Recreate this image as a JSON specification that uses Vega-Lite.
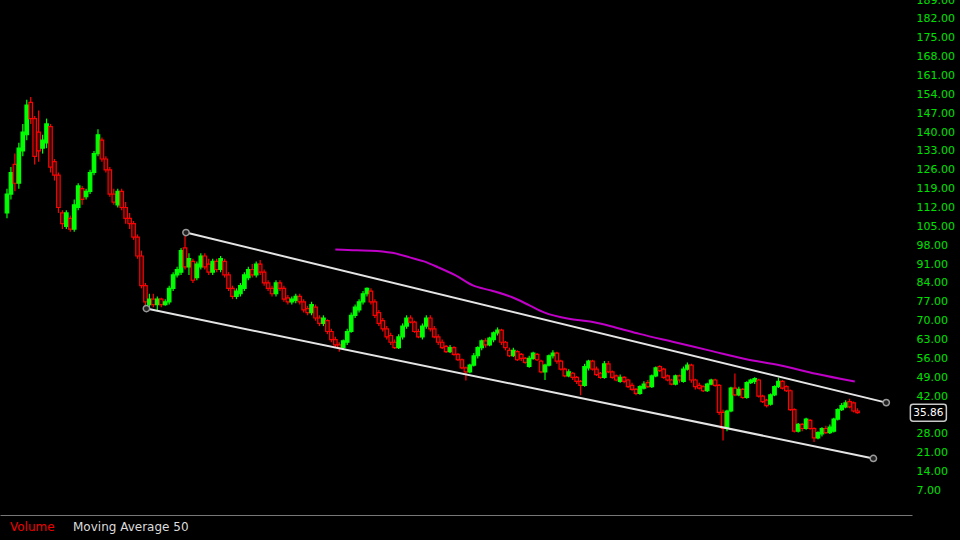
{
  "$schema": "https://vega.github.io/schema/vega-lite/v6.json",
  "width": 912,
  "height": 515,
  "autosize": {"type": "none"},
  "padding": {"left": 0, "top": 0, "right": 48, "bottom": 25},
  "background": "#000000",
  "config": {
    "view": {"stroke": null},
    "font": "DejaVu Sans",
    "axisX": {"labels": false, "ticks": false, "grid": false, "domainColor": "#777777", "domainWidth": 1},
    "axisY": {"orient": "right", "domain": false, "ticks": false, "grid": false, "labelColor": "#00e000", "labelFont": "DejaVu Sans", "labelFontSize": 11, "labelPadding": 4, "labelAlign": "left", "labelBaseline": "middle", "format": ".2f", "labelOverlap": false, "labelBound": false, "labelFlush": false}
  },
  "datasets": {
    "k": [
      {"t":0,"o":110,"h":119,"l":108,"c":117},{"t":1,"o":117,"h":127,"l":115,"c":125},{"t":2,"o":128,"h":132,"l":118,"c":121},{"t":3,"o":121,"h":136,"l":119,"c":134},{"t":4,"o":133,"h":143,"l":131,"c":140},{"t":5,"o":139,"h":152,"l":137,"c":150},{"t":6,"o":151,"h":153,"l":143,"c":145},{"t":7,"o":145,"h":146,"l":128,"c":131},{"t":8,"o":140,"h":148,"l":129,"c":133},{"t":9,"o":134,"h":139,"l":132,"c":137},
      {"t":10,"o":136,"h":145,"l":134,"c":143},{"t":11,"o":142,"h":143,"l":125,"c":127},{"t":12,"o":129,"h":130,"l":122,"c":124},{"t":13,"o":124,"h":125,"l":110,"c":112},{"t":14,"o":110,"h":111,"l":104,"c":106},{"t":15,"o":105,"h":111,"l":104,"c":110},{"t":16,"o":108,"h":109,"l":103,"c":104},{"t":17,"o":104,"h":115,"l":103,"c":113},{"t":18,"o":112,"h":121,"l":111,"c":120},{"t":19,"o":119,"h":120,"l":113,"c":115},
      {"t":20,"o":116,"h":119,"l":115,"c":118},{"t":21,"o":118,"h":126,"l":117,"c":125},{"t":22,"o":125,"h":133,"l":124,"c":132},{"t":23,"o":132,"h":141,"l":131,"c":139},{"t":24,"o":137,"h":138,"l":129,"c":130},{"t":25,"o":130,"h":131,"l":125,"c":126},{"t":26,"o":126,"h":127,"l":116,"c":117},{"t":27,"o":117,"h":119,"l":113,"c":114},{"t":28,"o":113,"h":119,"l":112,"c":118},{"t":29,"o":118,"h":119,"l":111,"c":112},
      {"t":30,"o":112,"h":114,"l":106,"c":108},{"t":31,"o":108,"h":110,"l":104,"c":106},{"t":32,"o":106,"h":107,"l":100,"c":101},{"t":33,"o":101,"h":102,"l":93,"c":94},{"t":34,"o":94,"h":96,"l":82,"c":83},{"t":35,"o":83,"h":84,"l":74.5,"c":77},{"t":36,"o":76,"h":80,"l":74,"c":78},{"t":37,"o":78,"h":80,"l":75,"c":76},{"t":38,"o":76,"h":79,"l":73.5,"c":78},{"t":39,"o":78,"h":78.5,"l":75,"c":76},
      {"t":40,"o":76,"h":78,"l":75.5,"c":77},{"t":41,"o":77,"h":83,"l":76,"c":82},{"t":42,"o":82,"h":88,"l":81,"c":87},{"t":43,"o":87,"h":90,"l":86,"c":89},{"t":44,"o":88,"h":97,"l":87,"c":96},{"t":45,"o":97,"h":102.7,"l":89,"c":90},{"t":46,"o":90,"h":95,"l":87,"c":93},{"t":47,"o":92,"h":93,"l":84,"c":85},{"t":48,"o":86,"h":92,"l":85,"c":91},{"t":49,"o":90,"h":95,"l":89,"c":94},
      {"t":50,"o":94,"h":95,"l":89,"c":90},{"t":51,"o":91,"h":93,"l":87,"c":88},{"t":52,"o":88,"h":93,"l":87,"c":92},{"t":53,"o":92,"h":93,"l":88,"c":89},{"t":54,"o":89,"h":94,"l":88,"c":93},{"t":55,"o":92,"h":93,"l":86,"c":87},{"t":56,"o":87,"h":88,"l":81,"c":82},{"t":57,"o":82,"h":83,"l":78,"c":79},{"t":58,"o":79,"h":82,"l":78,"c":81},{"t":59,"o":80,"h":84,"l":79,"c":83},
      {"t":60,"o":82,"h":88,"l":81,"c":87},{"t":61,"o":86,"h":90,"l":85,"c":89},{"t":62,"o":89,"h":91,"l":86,"c":87},{"t":63,"o":87,"h":92,"l":86,"c":91},{"t":64,"o":91,"h":92.5,"l":87,"c":88},{"t":65,"o":88,"h":89,"l":83,"c":84},{"t":66,"o":84,"h":85,"l":81,"c":82},{"t":67,"o":82,"h":83,"l":79,"c":80},{"t":68,"o":80,"h":85,"l":79,"c":84},{"t":69,"o":84,"h":85,"l":81,"c":82},
      {"t":70,"o":82,"h":83,"l":77,"c":78},{"t":71,"o":78.5,"h":79.5,"l":76,"c":77},{"t":72,"o":77,"h":79,"l":76,"c":78},{"t":73,"o":77.5,"h":80,"l":76.5,"c":79},{"t":74,"o":79,"h":80,"l":76,"c":77},{"t":75,"o":77,"h":78,"l":73,"c":74},{"t":76,"o":74.5,"h":75.5,"l":72,"c":73},{"t":77,"o":73,"h":77,"l":72,"c":76},{"t":78,"o":75,"h":76,"l":70,"c":71},{"t":79,"o":71,"h":72,"l":68,"c":69},
      {"t":80,"o":69,"h":72,"l":68,"c":71},{"t":81,"o":70,"h":70.5,"l":65,"c":66},{"t":82,"o":66,"h":67,"l":62,"c":63},{"t":83,"o":63,"h":64,"l":60,"c":61},{"t":84,"o":61,"h":62,"l":58.5,"c":60},{"t":85,"o":60,"h":63,"l":59.5,"c":62.5},{"t":86,"o":62,"h":67,"l":61,"c":66},{"t":87,"o":66,"h":73,"l":65.5,"c":72},{"t":88,"o":72,"h":76,"l":71,"c":75},{"t":89,"o":74,"h":78,"l":73,"c":77},
      {"t":90,"o":77,"h":81,"l":76,"c":80},{"t":91,"o":80,"h":82.3,"l":79,"c":82},{"t":92,"o":81,"h":82,"l":76,"c":77},{"t":93,"o":77,"h":78,"l":71,"c":72},{"t":94,"o":73,"h":74,"l":68,"c":69},{"t":95,"o":70,"h":71,"l":66,"c":67},{"t":96,"o":67,"h":68,"l":63,"c":64},{"t":97,"o":64.5,"h":65.5,"l":61,"c":62},{"t":98,"o":62,"h":63,"l":59.5,"c":60},{"t":99,"o":60,"h":65,"l":59.5,"c":64},
      {"t":100,"o":64,"h":69,"l":63,"c":68},{"t":101,"o":68,"h":72,"l":67,"c":71},{"t":102,"o":71,"h":72,"l":69,"c":69.5},{"t":103,"o":69.5,"h":70,"l":65.5,"c":66},{"t":104,"o":66,"h":67,"l":63.5,"c":64},{"t":105,"o":64,"h":69,"l":63,"c":68},{"t":106,"o":68,"h":72,"l":67,"c":71},{"t":107,"o":71,"h":72,"l":66,"c":67},{"t":108,"o":67,"h":68,"l":63.5,"c":64},{"t":109,"o":64,"h":65,"l":61,"c":62},
      {"t":110,"o":62,"h":63,"l":59.5,"c":60},{"t":111,"o":60.5,"h":61,"l":58,"c":58.5},{"t":112,"o":58.5,"h":61,"l":58,"c":60},{"t":113,"o":60,"h":60.5,"l":57,"c":57.5},{"t":114,"o":57.5,"h":58,"l":55,"c":55.5},{"t":115,"o":55.5,"h":56,"l":52,"c":52.5},{"t":116,"o":52.5,"h":53,"l":47.8,"c":51},{"t":117,"o":51,"h":54,"l":50.5,"c":53.5},{"t":118,"o":53.5,"h":58,"l":53,"c":57},{"t":119,"o":57,"h":60.5,"l":56,"c":60},
      {"t":120,"o":60,"h":63,"l":59,"c":62.5},{"t":121,"o":62.5,"h":63.5,"l":60,"c":61},{"t":122,"o":61,"h":64,"l":60.5,"c":63.5},{"t":123,"o":63,"h":66,"l":62,"c":65.5},{"t":124,"o":65.5,"h":67.5,"l":64.5,"c":66.5},{"t":125,"o":66.5,"h":67,"l":61,"c":62},{"t":126,"o":62,"h":62.5,"l":59,"c":60},{"t":127,"o":59,"h":60,"l":56.5,"c":57},{"t":128,"o":57,"h":60,"l":56.5,"c":59},{"t":129,"o":58.5,"h":59,"l":55,"c":55.5},
      {"t":130,"o":57.5,"h":58,"l":55,"c":56},{"t":131,"o":56,"h":56.5,"l":54,"c":54.5},{"t":132,"o":53,"h":57,"l":52.5,"c":56},{"t":133,"o":56,"h":58.5,"l":55.5,"c":58},{"t":134,"o":57.5,"h":58,"l":55,"c":55.5},{"t":135,"o":55,"h":55.5,"l":50.5,"c":51},{"t":136,"o":51,"h":54,"l":48,"c":53.5},{"t":137,"o":53.5,"h":57.5,"l":53,"c":57},{"t":138,"o":57,"h":59,"l":56,"c":58},{"t":139,"o":58,"h":58.5,"l":54,"c":55},
      {"t":140,"o":55,"h":55.5,"l":51.5,"c":52},{"t":141,"o":52,"h":52.5,"l":49,"c":49.5},{"t":142,"o":49.5,"h":52,"l":49,"c":51},{"t":143,"o":50.5,"h":51,"l":48,"c":49},{"t":144,"o":49,"h":49.5,"l":46.5,"c":47.5},{"t":145,"o":47.5,"h":48,"l":42.3,"c":46},{"t":146,"o":46,"h":54,"l":45.5,"c":53},{"t":147,"o":52.5,"h":55.5,"l":51.5,"c":55},{"t":148,"o":55,"h":55.5,"l":51.5,"c":52},{"t":149,"o":52,"h":53,"l":49.5,"c":50},
      {"t":150,"o":50.5,"h":51,"l":48.5,"c":49},{"t":151,"o":49,"h":55,"l":48.5,"c":54},{"t":152,"o":54,"h":55,"l":50.5,"c":51},{"t":153,"o":51,"h":51.5,"l":48.5,"c":49},{"t":154,"o":49.5,"h":50,"l":47.5,"c":48},{"t":155,"o":47.5,"h":50,"l":47,"c":49},{"t":156,"o":49,"h":49.5,"l":46.8,"c":47.5},{"t":157,"o":48,"h":48.5,"l":45,"c":45.5},{"t":158,"o":46,"h":47,"l":44,"c":44.5},{"t":159,"o":44.5,"h":45,"l":42.3,"c":43},
      {"t":160,"o":43,"h":46,"l":42.5,"c":45.5},{"t":161,"o":45,"h":47.5,"l":44.5,"c":46.5},{"t":162,"o":47,"h":48,"l":45,"c":45.5},{"t":163,"o":45.5,"h":50,"l":45,"c":49.5},{"t":164,"o":49.5,"h":53,"l":49,"c":52.5},{"t":165,"o":53,"h":53.5,"l":51,"c":51.5},{"t":166,"o":52,"h":52.5,"l":48.5,"c":49},{"t":167,"o":49.5,"h":50,"l":47.5,"c":48},{"t":168,"o":48,"h":48.5,"l":46,"c":46.5},{"t":169,"o":46.5,"h":50,"l":46,"c":49.5},
      {"t":170,"o":49.5,"h":50,"l":47,"c":48},{"t":171,"o":47.5,"h":53,"l":47,"c":52},{"t":172,"o":52,"h":54.5,"l":51.5,"c":53.5},{"t":173,"o":53.5,"h":54,"l":47,"c":48},{"t":174,"o":48,"h":48.5,"l":44.5,"c":45.5},{"t":175,"o":46,"h":47,"l":44.5,"c":45},{"t":176,"o":45.5,"h":46,"l":43.5,"c":44},{"t":177,"o":44,"h":47,"l":43.5,"c":46.5},{"t":178,"o":46.5,"h":48.5,"l":46,"c":48},{"t":179,"o":48,"h":48.5,"l":45.5,"c":46},
      {"t":180,"o":46,"h":46.5,"l":35,"c":36},{"t":181,"o":36,"h":37,"l":25.5,"c":30},{"t":182,"o":30,"h":37,"l":29,"c":36.5},{"t":183,"o":36.5,"h":45.5,"l":36,"c":45},{"t":184,"o":45,"h":50.4,"l":42,"c":42.5},{"t":185,"o":42.5,"h":45.5,"l":42,"c":44.5},{"t":186,"o":44.5,"h":45,"l":41,"c":41.5},{"t":187,"o":41.5,"h":47.5,"l":41,"c":47},{"t":188,"o":47,"h":48.5,"l":46.5,"c":48},{"t":189,"o":47.5,"h":49,"l":46.5,"c":48.5},
      {"t":190,"o":48,"h":48.5,"l":41.5,"c":42},{"t":191,"o":42,"h":42.5,"l":39.5,"c":40},{"t":192,"o":40.5,"h":41,"l":37.8,"c":38.5},{"t":193,"o":39,"h":43,"l":38.5,"c":42.5},{"t":194,"o":42.5,"h":46,"l":42,"c":45.5},{"t":195,"o":45.5,"h":48.9,"l":45,"c":47.5},{"t":196,"o":47.5,"h":48,"l":44.5,"c":45},{"t":197,"o":45.5,"h":46,"l":43.5,"c":44},{"t":198,"o":44,"h":44.5,"l":36.5,"c":37},{"t":199,"o":37,"h":37.5,"l":28.5,"c":29},
      {"t":200,"o":29,"h":32,"l":28.5,"c":31.5},{"t":201,"o":31.5,"h":32,"l":29,"c":30},{"t":202,"o":30,"h":34,"l":29.5,"c":33.5},{"t":203,"o":33,"h":33.5,"l":29.5,"c":30},{"t":204,"o":30,"h":30.5,"l":25,"c":26.5},{"t":205,"o":26.5,"h":29,"l":26,"c":28.5},{"t":206,"o":28,"h":30.5,"l":27,"c":30},{"t":207,"o":30,"h":31,"l":28,"c":28.5},{"t":208,"o":28.5,"h":31.5,"l":28,"c":30.5},{"t":209,"o":29,"h":34,"l":28.5,"c":33.5},
      {"t":210,"o":33.5,"h":37.5,"l":33,"c":37},{"t":211,"o":37,"h":39.5,"l":36.5,"c":38.5},{"t":212,"o":38,"h":40.5,"l":37.5,"c":39.5},{"t":213,"o":40,"h":41,"l":37.5,"c":38},{"t":214,"o":39.5,"h":40,"l":36,"c":36.5},{"t":215,"o":36.5,"h":37.5,"l":35.5,"c":35.86}
    ],
    "ma": [
      {"t":83,"v":96.4,"s":"Moving Average 50"},{"t":88.4,"v":96.1,"s":"Moving Average 50"},{"t":92,"v":96.0,"s":"Moving Average 50"},{"t":97.4,"v":95.2,"s":"Moving Average 50"},{"t":101.8,"v":93.5,"s":"Moving Average 50"},{"t":105.4,"v":92.0,"s":"Moving Average 50"},{"t":109,"v":89.8,"s":"Moving Average 50"},{"t":113.4,"v":86.8,"s":"Moving Average 50"},{"t":117.9,"v":83.0,"s":"Moving Average 50"},{"t":122.4,"v":81.2,"s":"Moving Average 50"},{"t":127.7,"v":78.7,"s":"Moving Average 50"},{"t":132.2,"v":75.6,"s":"Moving Average 50"},{"t":135.75,"v":73.1,"s":"Moving Average 50"},{"t":142,"v":70.7,"s":"Moving Average 50"},{"t":147.4,"v":69.7,"s":"Moving Average 50"},{"t":153.6,"v":67.6,"s":"Moving Average 50"},{"t":159.9,"v":65.1,"s":"Moving Average 50"},{"t":168.8,"v":62.0,"s":"Moving Average 50"},{"t":177.7,"v":58.9,"s":"Moving Average 50"},{"t":186.6,"v":55.8,"s":"Moving Average 50"},{"t":195.6,"v":53.4,"s":"Moving Average 50"},{"t":204.5,"v":50.3,"s":"Moving Average 50"},{"t":214.3,"v":47.4,"s":"Moving Average 50"}
    ],
    "ch": [
      {"g":"upper","t":45.25,"v":102.7},{"g":"upper","t":222.25,"v":39.6},
      {"g":"lower","t":35.25,"v":74.5},{"g":"lower","t":219,"v":18.9}
    ],
    "last": [{"v":35.86}]
  },
  "layer": [
    {
      "data": {"name": "k"},
      "mark": {"type": "rule", "strokeWidth": 1.2},
      "encoding": {
        "x": {"field": "t", "type": "quantitative", "scale": {"domain": [-0.5, 227.5], "nice": false, "zero": false}, "axis": {"title": null}},
        "y": {"field": "l", "type": "quantitative", "scale": {"domain": [-2.1, 189], "nice": false, "zero": false}, "axis": {"title": null, "labelOverlap": false, "tickCount": 60, "values": [7,14,21,28,42,49,56,63,70,77,84,91,98,105,112,119,126,133,140,147,154,161,168,175,182,189]}},
        "y2": {"field": "h"},
        "color": {"condition": {"test": "datum.c >= datum.o", "value": "#00ff00"}, "value": "#ff0000"}
      }
    },
    {
      "data": {"name": "k"},
      "mark": {"type": "bar", "width": 3.5, "strokeWidth": 1.2},
      "encoding": {
        "x": {"field": "t", "type": "quantitative", "axis": {"title": null}},
        "y": {"field": "o", "type": "quantitative", "axis": {"title": null}},
        "y2": {"field": "c"},
        "fill": {"condition": {"test": "datum.c >= datum.o", "value": "#00ff00"}, "value": "#2a0000"},
        "stroke": {"condition": {"test": "datum.c >= datum.o", "value": "#00ff00"}, "value": "#ff0000"}
      }
    },
    {
      "data": {"name": "ma"},
      "mark": {"type": "line", "strokeWidth": 2, "interpolate": "monotone"},
      "encoding": {
        "x": {"field": "t", "type": "quantitative", "axis": {"title": null}},
        "y": {"field": "v", "type": "quantitative", "axis": {"title": null}},
        "color": {
          "field": "s", "type": "nominal",
          "scale": {"domain": ["Volume", "Moving Average 50"], "range": ["#e00000", "#c000c8"]},
          "legend": {
            "orient": "none", "legendX": -2, "legendY": 521, "direction": "horizontal", "title": null,
            "symbolSize": 0, "symbolStrokeWidth": 0, "symbolOpacity": 0, "labelOffset": 0, "columnPadding": 6,
            "padding": 0, "labelFont": "DejaVu Sans", "labelFontSize": 12, "labelColor": "#dcdcdc",
            "encode": {"labels": {"update": {"fill": {"signal": "datum.label === 'Volume' ? '#f00000' : '#dcdcdc'"}}}}
          }
        }
      }
    },
    {
      "data": {"name": "ch"},
      "mark": {"type": "line", "strokeWidth": 2, "color": "#e4e4e4"},
      "encoding": {
        "x": {"field": "t", "type": "quantitative", "axis": {"title": null}},
        "y": {"field": "v", "type": "quantitative", "axis": {"title": null}},
        "detail": {"field": "g"}
      }
    },
    {
      "data": {"name": "ch"},
      "mark": {"type": "point", "shape": "circle", "size": 40, "filled": true, "fill": "#222222", "stroke": "#9a9a9a", "strokeWidth": 1.5, "opacity": 1},
      "encoding": {
        "x": {"field": "t", "type": "quantitative", "axis": {"title": null}},
        "y": {"field": "v", "type": "quantitative", "axis": {"title": null}}
      }
    },
    {
      "data": {"name": "last"},
      "mark": {"type": "point", "shape": "M -0.85 -0.47 H 0.85 Q 1 -0.47 1 -0.32 V 0.32 Q 1 0.47 0.85 0.47 H -0.85 Q -1 0.47 -1 0.32 V -0.32 Q -1 -0.47 -0.85 -0.47 Z", "size": 1296, "filled": true, "fill": "#000000", "stroke": "#c8c8c8", "strokeWidth": 1.5, "opacity": 1},
      "encoding": {
        "x": {"datum": 232.9, "type": "quantitative"},
        "y": {"field": "v", "type": "quantitative", "axis": {"title": null}}
      }
    },
    {
      "data": {"name": "last"},
      "mark": {"type": "text", "color": "#ffffff", "font": "DejaVu Sans", "fontSize": 10.5, "align": "center", "baseline": "middle"},
      "encoding": {
        "x": {"datum": 232.9, "type": "quantitative"},
        "y": {"field": "v", "type": "quantitative", "axis": {"title": null}},
        "text": {"field": "v", "type": "quantitative", "format": ".2f"}
      }
    }
  ]
}
